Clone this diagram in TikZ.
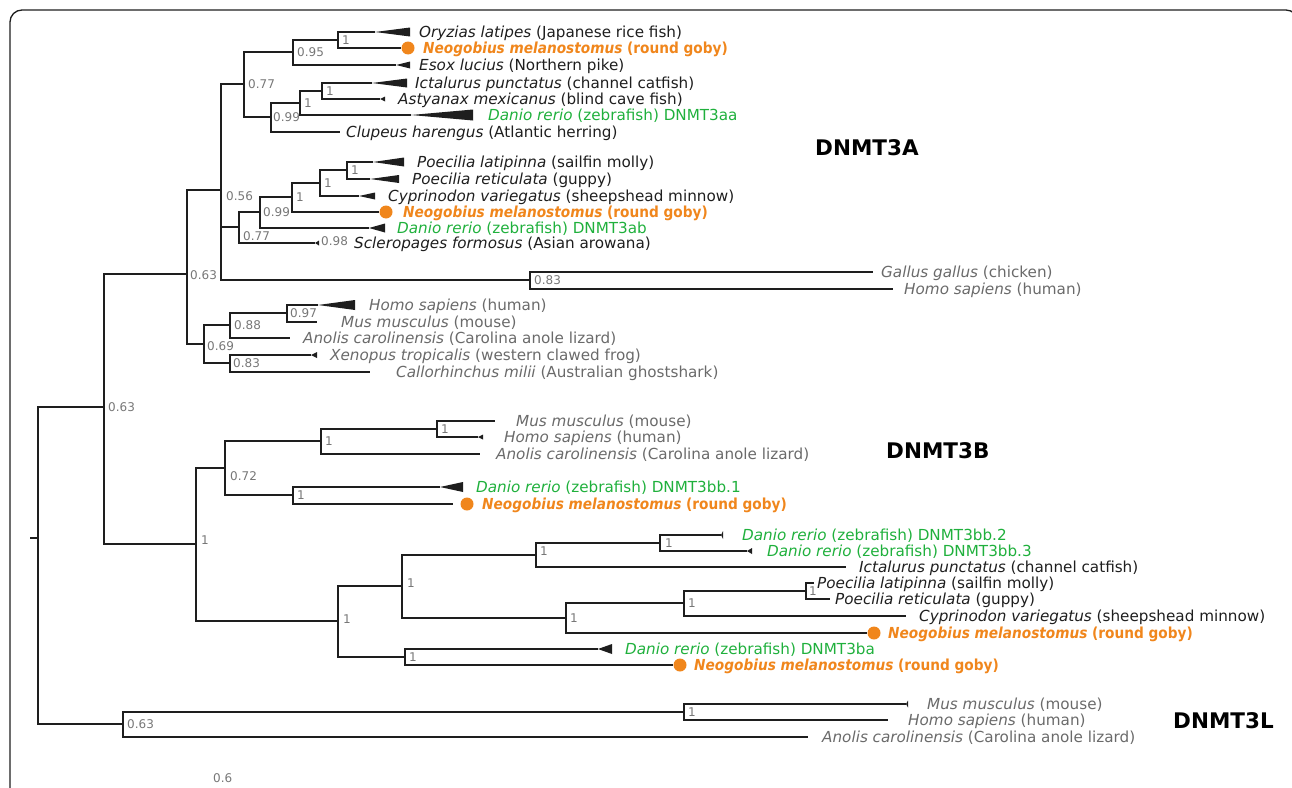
\documentclass[tikz,border=0pt]{standalone}
\usepackage{fontspec}
\setmainfont{DejaVu Sans}
\newfontfamily\gobyfont[FakeStretch=0.9]{DejaVu Sans}
\usepackage{tikz}
\usetikzlibrary{positioning}
\definecolor{ink}{HTML}{1E1E1E}
\definecolor{tetra}{HTML}{6A6A6A}
\definecolor{zebra}{HTML}{1FB03C}
\definecolor{goby}{HTML}{F0861C}
\definecolor{supp}{HTML}{777777}
\newcommand{\collapsed}[3]{\fill[ink] (#1) -- ++(#2,#3) -- ++(0,-2*#3) -- cycle;}

\begin{document}
\begin{tikzpicture}[
  x=1pt,y=-1pt,
  br/.style={draw=ink,line width=1.2pt},
  leaf/.style={anchor=base west,yshift=-5.3pt,inner sep=0pt,font=\fontsize{15.2}{18}\selectfont,text=ink},
  tleaf/.style={leaf,text=tetra},
  zleaf/.style={leaf,text=zebra},
  gleaf/.style={leaf,text=goby,font=\fontsize{15.2}{18}\gobyfont\bfseries},
  sup/.style={anchor=west,inner sep=0pt,font=\fontsize{12}{14}\selectfont,text=supp},
  dot/.style={circle,fill=goby,inner sep=0pt,minimum size=13pt},
  gene/.style={anchor=west,inner sep=0pt,font=\fontsize{21.5}{24}\selectfont\bfseries,text=black}
]
\useasboundingbox (0,0) rectangle (1292,787);
\clip (0,0) rectangle (1292,787);
% frame
\draw[line width=1.3pt,draw=ink,rounded corners=12pt] (10,800) -- (10,10) -- (1298,10) -- (1298,800);

% internal nodes
\coordinate (root) at (38,538); \coordinate (stub) at (30,538);
\coordinate (a063) at (104,407);
\coordinate (b063) at (187,274);
\coordinate (a056) at (221,190);
\coordinate (a077) at (244,84);
\coordinate (a095) at (293,52);
\coordinate (aory) at (338,40);
\coordinate (a099) at (271,117);
\coordinate (a1) at (300,103);
\coordinate (aict) at (322,91);
\coordinate (c077) at (239,227);
\coordinate (c099) at (260,212);
\coordinate (cneo) at (292,197);
\coordinate (ccyp) at (320,183);
\coordinate (cpoe) at (347,170);
\coordinate (a083) at (530,280);
\coordinate (t069) at (204,344);
\coordinate (t088) at (230,325);
\coordinate (t097) at (287,313);
\coordinate (t083) at (230,363);
\coordinate (b1) at (196,544);
\coordinate (b072) at (225,468);
\coordinate (bmam) at (321,441);
\coordinate (bmh) at (437,429);
\coordinate (bdn) at (293,495);
\coordinate (bfish) at (338,621);
\coordinate (bup) at (402,586);
\coordinate (bict) at (536,555);
\coordinate (bbb) at (660,543);
\coordinate (bneo) at (566,618);
\coordinate (bcyp) at (684,603);
\coordinate (bpoe) at (806,591);
\coordinate (bba) at (405,657);
\coordinate (l063) at (123,724);
\coordinate (lmh) at (684,712);

% support values
\node[sup,right=4pt of aory] (saory) {1};
\node[sup,right=4pt of a095] (sa095) {0.95};
\node[sup,right=4pt of a077] (sa077) {0.77};
\node[sup,right=4pt of aict] (saict) {1};
\node[sup,right=4pt of a1] (sa1) {1};
\node[sup,right=2pt of a099] (sa099) {0.99};
\node[sup,right=4pt of cpoe] (scpoe) {1};
\node[sup,right=4pt of ccyp] (sccyp) {1};
\node[sup,right=4pt of cneo] (scneo) {1};
\node[sup,right=3pt of c099] (sc099) {0.99};
\node[sup] (sc077) at (243,236) {0.77};
\node[sup] (sa056) at (226,196) {0.56};
\node[sup] (sb063) at (190,275) {0.63};
\node[sup,right=4pt of a083] (sa083) {0.83};
\node[sup,right=3pt of t097] (st097) {0.97};
\node[sup,right=4pt of t088] (st088) {0.88};
\node[sup,right=3pt of t083] (st083) {0.83};
\node[sup] (st069) at (207,346) {0.69};
\node[sup,right=4pt of a063] (sa063) {0.63};
\node[sup,right=4pt of bmh] (sbmh) {1};
\node[sup,right=4pt of bmam] (sbmam) {1};
\node[sup,right=4pt of bdn] (sbdn) {1};
\node[sup] (sb072) at (230,476) {0.72};
\node[sup] (sb1) at (201,540) {1};
\node[sup,right=5pt of bbb] (sbbb) {1};
\node[sup] (sbict) at (540,551) {1};
\node[sup,right=3pt of bpoe] (sbpoe) {1};
\node[sup,right=4pt of bcyp] (sbcyp) {1};
\node[sup,right=4pt of bneo] (sbneo) {1};
\node[sup] (sbup) at (407,583) {1};
\node[sup,right=4pt of bba] (sbba) {1};
\node[sup] (sbfish) at (343,619) {1};
\node[sup,right=4pt of lmh] (slmh) {1};
\node[sup,right=4pt of l063] (sl063) {0.63};
\node[sup] (scalebar) at (213,778) {0.6};

% DNMT3A leaves
\coordinate (ory) at (375,32); \collapsed{ory}{35}{4.5}
\node[leaf] (tory) at (419,32) {\textit{Oryzias latipes} (Japanese rice fish)};
\node[dot] (gobya) at (408,48) {};
\node[gleaf] (tgobya) at (423,48) {\textit{Neogobius melanostomus} (round goby)};
\coordinate (esox) at (396,65); \collapsed{esox}{14}{3.5}
\node[leaf] (tesox) at (419,65) {\textit{Esox lucius} (Northern pike)};
\coordinate (icta) at (372,83); \collapsed{icta}{35}{4.5}
\node[leaf] (ticta) at (415,83) {\textit{Ictalurus punctatus} (channel catfish)};
\coordinate (asty) at (380,99); \collapsed{asty}{5}{2.5}
\node[leaf] (tasty) at (398,99) {\textit{Astyanax mexicanus} (blind cave fish)};
\coordinate (draa) at (411,115); \collapsed{draa}{62}{5.5}
\node[zleaf] (tdraa) at (488,115) {\textit{Danio rerio} (zebrafish) DNMT3aa};
\coordinate (clup) at (340,132);
\node[leaf] (tclup) at (346,132) {\textit{Clupeus harengus} (Atlantic herring)};
\coordinate (poela) at (373,162); \collapsed{poela}{31}{4.5}
\node[leaf] (tpoela) at (417,162) {\textit{Poecilia latipinna} (sailfin molly)};
\coordinate (poera) at (370,179); \collapsed{poera}{29}{4}
\node[leaf] (tpoera) at (412,179) {\textit{Poecilia reticulata} (guppy)};
\coordinate (cypa) at (359,196); \collapsed{cypa}{16}{3.5}
\node[leaf] (tcypa) at (388,196) {\textit{Cyprinodon variegatus} (sheepshead minnow)};
\node[dot] (gobyb) at (386,212) {};
\node[gleaf] (tgobyb) at (403,212) {\textit{Neogobius melanostomus} (round goby)};
\coordinate (drab) at (369,228); \collapsed{drab}{16}{4.5}
\node[zleaf] (tdrab) at (397,228) {\textit{Danio rerio} (zebrafish) DNMT3ab};
\coordinate (scle) at (315,243); \collapsed{scle}{4}{2.5}
\node[sup] (sscle) at (321,241) {0.98};
\node[leaf] (tscle) at (354,243) {\textit{Scleropages formosus} (Asian arowana)};
\coordinate (gall) at (873,272);
\node[tleaf] (tgall) at (881,272) {\textit{Gallus gallus} (chicken)};
\coordinate (homa) at (893,289);
\node[tleaf] (thoma) at (904,289) {\textit{Homo sapiens} (human)};
\coordinate (homb) at (318,305); \collapsed{homb}{37}{5}
\node[tleaf] (thomb) at (369,305) {\textit{Homo sapiens} (human)};
\coordinate (musa) at (317,322);
\node[tleaf] (tmusa) at (341,322) {\textit{Mus musculus} (mouse)};
\coordinate (anoa) at (290,338);
\node[tleaf] (tanoa) at (303,338) {\textit{Anolis carolinensis} (Carolina anole lizard)};
\coordinate (xeno) at (311,355); \collapsed{xeno}{6}{3}
\node[tleaf] (txeno) at (330,355) {\textit{Xenopus tropicalis} (western clawed frog)};
\coordinate (call) at (370,372);
\node[tleaf] (tcall) at (396,372) {\textit{Callorhinchus milii} (Australian ghostshark)};

% DNMT3B leaves
\coordinate (musb) at (495,421);
\node[tleaf] (tmusb) at (516,421) {\textit{Mus musculus} (mouse)};
\coordinate (homc) at (478,437); \collapsed{homc}{5}{2.5}
\node[tleaf] (thomc) at (504,437) {\textit{Homo sapiens} (human)};
\coordinate (anob) at (480,454);
\node[tleaf] (tanob) at (496,454) {\textit{Anolis carolinensis} (Carolina anole lizard)};
\coordinate (drbb1) at (440,487); \collapsed{drbb1}{23}{5}
\node[zleaf] (tdrbb1) at (476,487) {\textit{Danio rerio} (zebrafish) DNMT3bb.1};
\coordinate (gobyce) at (453,504);
\node[dot] (gobyc) at (467,504) {};
\node[gleaf] (tgobyc) at (482,504) {\textit{Neogobius melanostomus} (round goby)};
\coordinate (drbb2) at (721,535); \collapsed{drbb2}{2}{4}
\node[zleaf] (tdrbb2) at (742,535) {\textit{Danio rerio} (zebrafish) DNMT3bb.2};
\coordinate (drbb3) at (747,551); \collapsed{drbb3}{5}{3}
\node[zleaf] (tdrbb3) at (767,551) {\textit{Danio rerio} (zebrafish) DNMT3bb.3};
\coordinate (ictb) at (846,567);
\node[leaf] (tictb) at (859,567) {\textit{Ictalurus punctatus} (channel catfish)};
\coordinate (poelb) at (814,583);
\node[leaf] (tpoelb) at (817,583) {\textit{Poecilia latipinna} (sailfin molly)};
\coordinate (poerb) at (830,599);
\node[leaf] (tpoerb) at (835,599) {\textit{Poecilia reticulata} (guppy)};
\coordinate (cypb) at (906,616);
\node[leaf] (tcypb) at (919,616) {\textit{Cyprinodon variegatus} (sheepshead minnow)};
\node[dot] (gobyd) at (874,633) {};
\node[gleaf] (tgobyd) at (888,633) {\textit{Neogobius melanostomus} (round goby)};
\coordinate (drba) at (598,649); \collapsed{drba}{14}{5}
\node[zleaf] (tdrba) at (625,649) {\textit{Danio rerio} (zebrafish) DNMT3ba};
\node[dot] (gobye) at (680,665) {};
\node[gleaf] (tgobye) at (694,665) {\textit{Neogobius melanostomus} (round goby)};

% DNMT3L leaves
\coordinate (musl) at (906,704); \collapsed{musl}{2}{3.5}
\node[tleaf] (tmusl) at (927,704) {\textit{Mus musculus} (mouse)};
\coordinate (homl) at (888,720);
\node[tleaf] (thoml) at (908,720) {\textit{Homo sapiens} (human)};
\coordinate (anol) at (808,737);
\node[tleaf] (tanol) at (822,737) {\textit{Anolis carolinensis} (Carolina anole lizard)};

% gene labels
\node[gene] (g3a) at (815,148) {DNMT3A};
\node[gene] (g3b) at (886,451) {DNMT3B};
\node[gene] (g3l) at (1173,721) {DNMT3L};

% branches
\draw[br] (stub) -- (root);
\draw[br] (root) |- (a063); \draw[br] (root) |- (l063);
\draw[br] (a063) |- (b063); \draw[br] (a063) |- (b1);
\draw[br] (b063) |- (a056); \draw[br] (b063) |- (t069);
\draw[br] (a056) |- (a077); \draw[br] (a056) |- (c077); \draw[br] (a056) |- (a083);
\draw[br] (a077) |- (a095); \draw[br] (a077) |- (a099);
\draw[br] (a095) |- (aory); \draw[br] (a095) |- (esox);
\draw[br] (aory) |- (ory); \draw[br] (aory) |- (gobya.west);
\draw[br] (a099) |- (a1); \draw[br] (a099) |- (clup);
\draw[br] (a1) |- (aict); \draw[br] (a1) |- (draa);
\draw[br] (aict) |- (icta); \draw[br] (aict) |- (asty);
\draw[br] (c077) |- (c099); \draw[br] (c077) |- (scle);
\draw[br] (c099) |- (cneo); \draw[br] (c099) |- (drab);
\draw[br] (cneo) |- (ccyp); \draw[br] (cneo) |- (gobyb.west);
\draw[br] (ccyp) |- (cpoe); \draw[br] (ccyp) |- (cypa);
\draw[br] (cpoe) |- (poela); \draw[br] (cpoe) |- (poera);
\draw[br] (a083) |- (gall); \draw[br] (a083) |- (homa);
\draw[br] (t069) |- (t088); \draw[br] (t069) |- (t083);
\draw[br] (t088) |- (t097); \draw[br] (t088) |- (anoa);
\draw[br] (t097) |- (homb); \draw[br] (t097) |- (musa);
\draw[br] (t083) |- (xeno); \draw[br] (t083) |- (call);
\draw[br] (b1) |- (b072); \draw[br] (b1) |- (bfish);
\draw[br] (b072) |- (bmam); \draw[br] (b072) |- (bdn);
\draw[br] (bmam) |- (bmh); \draw[br] (bmam) |- (anob);
\draw[br] (bmh) |- (musb); \draw[br] (bmh) |- (homc);
\draw[br] (bdn) |- (drbb1); \draw[br] (bdn) |- (gobyce);
\draw[br] (bfish) |- (bup); \draw[br] (bfish) |- (bba);
\draw[br] (bup) |- (bict); \draw[br] (bup) |- (bneo);
\draw[br] (bict) |- (bbb); \draw[br] (bict) |- (ictb);
\draw[br] (bbb) |- (drbb2); \draw[br] (bbb) |- (drbb3);
\draw[br] (bneo) |- (bcyp); \draw[br] (bneo) |- (gobyd.west);
\draw[br] (bcyp) |- (bpoe); \draw[br] (bcyp) |- (cypb);
\draw[br] (bpoe) |- (poelb); \draw[br] (bpoe) |- (poerb);
\draw[br] (bba) |- (drba); \draw[br] (bba) |- (gobye.west);
\draw[br] (l063) |- (lmh); \draw[br] (l063) |- (anol);
\draw[br] (lmh) |- (musl); \draw[br] (lmh) |- (homl);
\end{tikzpicture}
\end{document}
